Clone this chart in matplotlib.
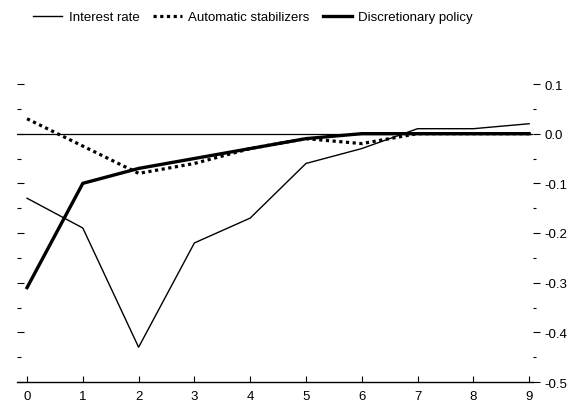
import matplotlib
matplotlib.use("Agg")
import numpy as np
import matplotlib.pyplot as plt
from matplotlib.ticker import MultipleLocator, FormatStrFormatter

matplotlib.rcParams.update({'font.size': 9.5, 'font.family': 'Liberation Sans'})

# values
periods = list(range(10))
interest_rate = [-0.13, -0.19, -0.43, -0.22, -0.17, -0.06, -0.03, 0.01, 0.01, 0.02]
auto_stabilizers = [0.03, -0.025, -0.08, -0.06, -0.03, -0.01, -0.02, 0.0, 0.0, 0.0]
discretionary = [-0.31, -0.10, -0.07, -0.05, -0.03, -0.01, 0.0, 0.0, 0.0, 0.0]

fig = plt.figure(figsize=(5.82, 4.02), dpi=100)
ax = fig.add_axes([17 / 582, 1 - 383 / 402, (533 - 17) / 582, (383 - 85) / 402])

ax.axhline(0, color='black', linewidth=0.9, zorder=1)
ax.plot(periods, interest_rate, color='black', linewidth=1.0, label='Interest rate')
ax.plot(periods, auto_stabilizers, color='black', linewidth=2.3,
        linestyle=(0, (1, 1.1)), label='Automatic stabilizers')
ax.plot(periods, discretionary, color='black', linewidth=2.4, label='Discretionary policy')

ax.set_xlim(-0.18, 9.07)
ax.set_ylim(-0.5, 0.1)

for side in ['top', 'left', 'right']:
    ax.spines[side].set_visible(False)
ax.spines['bottom'].set_linewidth(1.0)

ax.set_xticks(periods)
ax.tick_params(axis='x', direction='in', length=4, width=0.8, pad=6)

# y ticks shown on both sides: labels on the right, inward marks on the left
ax.yaxis.set_major_locator(MultipleLocator(0.1))
ax.yaxis.set_minor_locator(MultipleLocator(0.05))
ax.yaxis.set_major_formatter(FormatStrFormatter('%.1f'))
ax.tick_params(axis='y', which='both', left=True, right=True, labelleft=False, labelright=True,
               width=0.8)
ax.tick_params(axis='y', which='major', length=5, pad=3)
ax.tick_params(axis='y', which='minor', length=2.5)
majors = ax.yaxis.get_major_ticks()
for t in majors + ax.yaxis.get_minor_ticks():
    t.tick1line.set_markersize(5 if t in majors else 3)
    t.tick1line.set_marker(matplotlib.lines.TICKRIGHT)

fig.legend(loc='center', bbox_to_anchor=(253 / 582, 1 - 18 / 402), ncol=3, frameon=False,
           handlelength=2.2, columnspacing=1.0, handletextpad=0.5, fontsize=9.5)

fig.savefig('out.png', dpi=100)
